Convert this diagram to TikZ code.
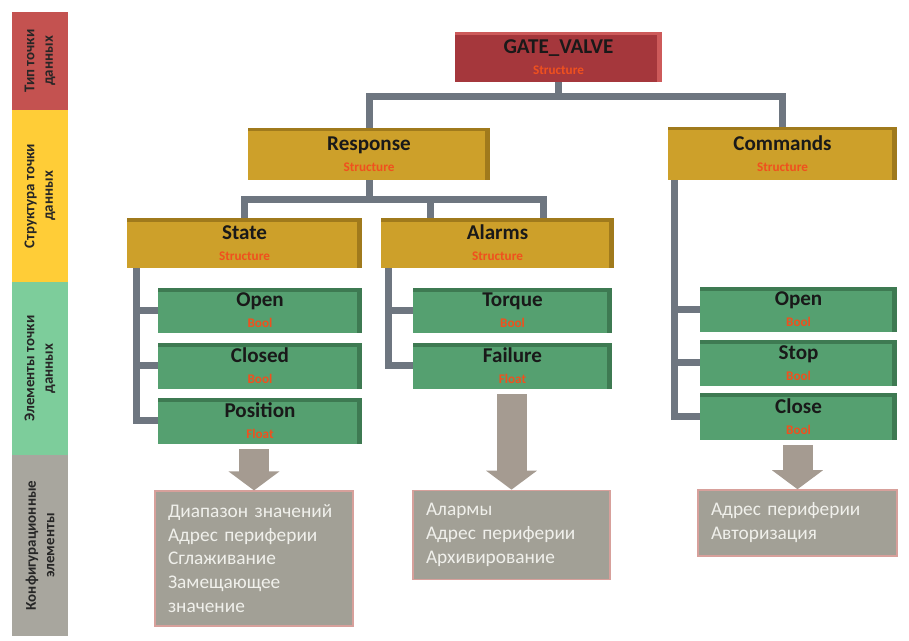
\documentclass[tikz,border=0pt]{standalone}
\usepackage{fontspec}
\setmainfont{Carlito}
\usepackage{xcolor}
\usetikzlibrary{arrows.meta}

\definecolor{bandred}{RGB}{196,82,80}
\definecolor{bandyellow}{RGB}{255,205,55}
\definecolor{bandgreen}{RGB}{125,205,155}
\definecolor{bandgray}{RGB}{168,166,158}
\definecolor{gatefill}{RGB}{165,55,60}
\definecolor{gateedge}{RGB}{205,90,90}
\definecolor{strfill}{RGB}{205,160,42}
\definecolor{stredge}{RGB}{160,122,28}
\definecolor{elmfill}{RGB}{85,160,112}
\definecolor{elmedge}{RGB}{62,122,82}
\definecolor{pipegray}{RGB}{110,118,128}
\definecolor{arrowgray}{RGB}{165,155,145}
\definecolor{cfgfill}{RGB}{162,160,150}
\definecolor{cfgline}{RGB}{215,160,155}
\definecolor{cfgtext}{RGB}{240,240,235}
\definecolor{subred}{RGB}{240,80,30}

\newcommand{\boxtext}[2]{\textbf{#1}\\[-1pt]{\fontsize{7.5}{8}\selectfont\bfseries\color{subred}#2}}

\tikzset{
  band/.style={rectangle, rotate=90, minimum height=1.12cm, inner sep=0pt,
    align=center, font=\fontsize{8.5}{10.5}\selectfont\bfseries, text=black!85},
  box/.style={rectangle, inner sep=0pt, align=center, fill=#1fill,
    font=\fontsize{12}{13}\selectfont, text=black!90,
    path picture={
      \fill[#1edge] (path picture bounding box.north west) rectangle
        ([yshift=-0.07cm]path picture bounding box.north east);
      \fill[#1edge] ([xshift=-0.1cm]path picture bounding box.north east) rectangle
        (path picture bounding box.south east);}},
  cfg/.style={rectangle, inner sep=0.26cm, align=left, fill=cfgfill, draw=cfgline,
    line width=0.8pt, text=cfgtext, anchor=center,
    font=\fontsize{11}{13.6}\selectfont},
  pipe/.style={draw=pipegray, line width=0.14cm, line join=miter},
  bigarrow/.style={draw=arrowgray, line width=0.6cm,
    -{Triangle[width=1.0cm, length=0.38cm]}, shorten <=0.1cm}
}

\begin{document}
\begin{tikzpicture}[x=0.02cm, y=-0.02cm]
  \fill[white] (0,0) rectangle (909,641);
  \useasboundingbox (0,0) rectangle (909,641);

  % side bands
  \node[band, fill=bandred, minimum width=1.96cm] (bandtype) at (40,61) {Тип точки\\данных};
  \node[band, fill=bandyellow, minimum width=3.44cm] (bandstruct) at (40,196) {Структура точки\\данных};
  \node[band, fill=bandgreen, minimum width=3.46cm] (bandelem) at (40,368.5) {Элементы точки\\данных};
  \node[band, fill=bandgray, minimum width=3.62cm] (bandcfg) at (40,545.5) {Конфигурационные\\элементы};

  % data point type and structures
  \node[box=gate, minimum width=4.14cm, minimum height=1.0cm] (gate) at (558.5,57) {\boxtext{GATE\_VALVE}{Structure}};
  \node[box=str, minimum width=4.84cm, minimum height=1.04cm] (response) at (369,154) {\boxtext{Response}{Structure}};
  \node[box=str, minimum width=4.58cm, minimum height=1.06cm] (commands) at (782.5,153.5) {\boxtext{Commands}{Structure}};
  \node[box=str, minimum width=4.7cm, minimum height=1.0cm] (state) at (244.5,243) {\boxtext{State}{Structure}};
  \node[box=str, minimum width=4.66cm, minimum height=1.0cm] (alarms) at (497.5,243) {\boxtext{Alarms}{Structure}};

  % elements
  \node[box=elm, minimum width=4.08cm, minimum height=0.9cm] (sopen) at (260,310.5) {\boxtext{Open}{Bool}};
  \node[box=elm, minimum width=4.08cm, minimum height=0.92cm] (sclosed) at (260,366) {\boxtext{Closed}{Bool}};
  \node[box=elm, minimum width=4.08cm, minimum height=0.92cm] (spos) at (260,421) {\boxtext{Position}{Float}};
  \node[box=elm, minimum width=3.98cm, minimum height=0.9cm] (atorque) at (512.5,310.5) {\boxtext{Torque}{Bool}};
  \node[box=elm, minimum width=3.98cm, minimum height=0.92cm] (afail) at (512.5,366) {\boxtext{Failure}{Float}};
  \node[box=elm, minimum width=3.94cm, minimum height=0.9cm] (copen) at (798.5,309.5) {\boxtext{Open}{Bool}};
  \node[box=elm, minimum width=3.94cm, minimum height=0.92cm] (cstop) at (798.5,363) {\boxtext{Stop}{Bool}};
  \node[box=elm, minimum width=3.94cm, minimum height=0.94cm] (cclose) at (798.5,416.5) {\boxtext{Close}{Bool}};

  % configuration
  \node[cfg, minimum width=3.96cm, minimum height=2.66cm, text width=3.44cm] (cfgpos) at (254,558.5)
    {Диапазон значений\\Адрес периферии\\Сглаживание\\Замещающее\\значение};
  \node[cfg, minimum width=3.94cm, minimum height=1.68cm, text width=3.42cm] (cfgfail) at (511.5,535)
    {Алармы\\Адрес периферии\\Архивирование};
  \node[cfg, minimum width=3.98cm, minimum height=1.2cm, text width=3.46cm] (cfgcmd) at (797.5,523)
    {Адрес периферии\\Авторизация};

  % tree pipes
  \coordinate (topbar) at (0,97);
  \coordinate (midbar) at (0,200);
  \draw[pipe] (response.north) |- (gate.south |- topbar) -- (gate.south);
  \draw[pipe] (commands.north) |- (gate.south |- topbar);
  \draw[pipe] (state.north) |- (response.south |- midbar) -- (response.south);
  \draw[pipe] ([xshift=-1.34cm]alarms.north) |- (response.south |- midbar);
  \draw[pipe] ([xshift=0.92cm]alarms.north) |- (response.south |- midbar);

  \draw[pipe] ([xshift=0.2cm]state.south west) |- (sopen.west);
  \draw[pipe] ([xshift=0.2cm]state.south west) |- (sclosed.west);
  \draw[pipe] ([xshift=0.2cm]state.south west) |- (spos.west);
  \draw[pipe] ([xshift=0.16cm]alarms.south west) |- (atorque.west);
  \draw[pipe] ([xshift=0.16cm]alarms.south west) |- (afail.west);
  \draw[pipe] ([xshift=0.14cm]commands.south west) |- (copen.west);
  \draw[pipe] ([xshift=0.14cm]commands.south west) |- (cstop.west);
  \draw[pipe] ([xshift=0.14cm]commands.south west) |- (cclose.west);

  % arrows to configuration
  \draw[bigarrow] (cfgpos.north |- spos.south) -- (cfgpos.north);
  \draw[bigarrow] (cfgfail.north |- afail.south) -- (cfgfail.north);
  \draw[bigarrow] (cfgcmd.north |- cclose.south) -- (cfgcmd.north);
\end{tikzpicture}
\end{document}
